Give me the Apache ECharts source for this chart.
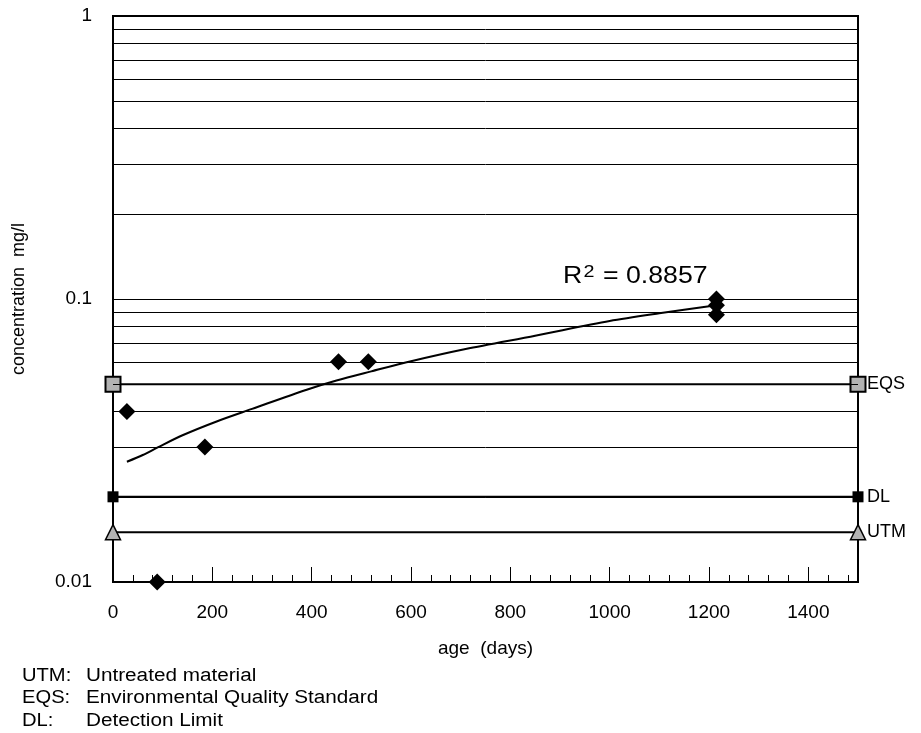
<!DOCTYPE html>
<html>
<head>
<meta charset="utf-8">
<title>Concentration vs age</title>
<script src="https://cdn.jsdelivr.net/npm/echarts@6/dist/echarts.min.js"></script>
<style>
  html, body { margin: 0; padding: 0; background: #ffffff; }
  #chart { width: 921px; height: 733px; }
</style>
</head>
<body>
<div id="chart"></div>
<script>
// Measured leachate concentrations (mg/l) against sample age (days)
const ageDays = [28, 89, 185, 454, 514, 1215, 1215, 1215];
const concentration = [0.04, 0.01, 0.03, 0.06, 0.06, 0.1, 0.095, 0.088];

// Trend line
const trendAge = [28, 60, 90, 140, 210, 280, 390, 450, 520, 600, 710, 850, 1000, 1100, 1215];
const trendConc = [0.0266, 0.0281, 0.0299, 0.0330, 0.0370, 0.0409, 0.0478, 0.0515, 0.0555, 0.0603, 0.0666, 0.0742, 0.0836, 0.0890, 0.0950];
const trendLabel = '0.8857';

// Reference levels
const refNames = ['EQS', 'DL', 'UTM'];
const refLevels = [0.05, 0.02, 0.015];
const refRange = [0, 1500];

// Horizontal grid levels inside each decade
const gridLevels = [0.02, 0.03, 0.04, 0.05, 0.06, 0.07, 0.08, 0.09,
                    0.2, 0.3, 0.4, 0.5, 0.6, 0.7, 0.8, 0.9];

// Footnote legend
const noteKeys = ['UTM:', 'EQS:', 'DL:'];
const noteTexts = ['Untreated material', 'Environmental Quality Standard', 'Detection Limit'];

const FONT = '"Liberation Sans", Arial, sans-serif';
const GREY = '#b2b2b2';

const chart = echarts.init(document.getElementById('chart'), null, { renderer: 'canvas' });

const refStyles = {
  EQS: { symbol: 'rect', symbolSize: 15, color: GREY, border: 2 },
  DL: { symbol: 'rect', symbolSize: 11, color: '#000000', border: 0 },
  UTM: { symbol: 'triangle', symbolSize: 15, color: GREY, border: 1.5 }
};

const refSeries = refNames.map((name, i) => ({
  name: name,
  type: 'line',
  data: refRange.map(x => [x, refLevels[i]]),
  symbol: refStyles[name].symbol,
  symbolSize: refStyles[name].symbolSize,
  showSymbol: true,
  clip: false,
  z: 4,
  silent: true,
  lineStyle: { color: '#000000', width: 2 },
  itemStyle: {
    color: refStyles[name].color,
    borderColor: '#000000',
    borderWidth: refStyles[name].border,
    opacity: 1
  },
  endLabel: {
    show: true,
    formatter: name,
    distance: 9,
    color: '#000000',
    fontFamily: FONT,
    fontSize: 18
  },
  animation: false
}));

const noteGraphics = [];
noteKeys.forEach((k, i) => {
  const y = 676 + i * 22.5;
  noteGraphics.push({
    type: 'text', x: 22, y: y, scaleX: 1.12,
    style: { text: k, font: '18px ' + FONT, fill: '#000000', verticalAlign: 'middle' }
  });
  noteGraphics.push({
    type: 'text', x: 86, y: y, scaleX: 1.15,
    style: { text: noteTexts[i], font: '18px ' + FONT, fill: '#000000', verticalAlign: 'middle' }
  });
});

const option = {
  backgroundColor: '#ffffff',
  animation: false,
  grid: {
    left: 113, right: 63, top: 16, bottom: 151,
    show: true,
    borderColor: '#000000',
    borderWidth: 2,
    outerBoundsMode: 'none'
  },
  xAxis: [
    {
      type: 'value',
      min: 0, max: 1500, interval: 200,
      name: 'age  (days)',
      nameLocation: 'middle',
      nameGap: 57,
      nameTextStyle: { fontFamily: FONT, fontSize: 19, color: '#000000' },
      axisLine: { lineStyle: { color: '#000000', width: 2 } },
      axisTick: { show: true, inside: true, length: 15, lineStyle: { color: '#000000', width: 1 } },
      axisLabel: {
        margin: 21, color: '#000000', fontFamily: FONT, fontSize: 19, showMaxLabel: false,
        formatter: v => String(v)
      },
      splitLine: { show: false }
    },
    {
      type: 'value',
      min: 0, max: 1500, interval: 40,
      position: 'bottom',
      axisLine: { show: false },
      axisTick: { show: true, inside: true, length: 7, lineStyle: { color: '#000000', width: 1 } },
      axisLabel: { show: false },
      splitLine: { show: false }
    }
  ],
  yAxis: {
    type: 'log',
    logBase: 10,
    min: 0.01, max: 1,
    name: 'concentration  mg/l',
    nameLocation: 'middle',
    nameGap: 85,
    nameTextStyle: { fontFamily: FONT, fontSize: 18, color: '#000000' },
    axisLine: { show: true, lineStyle: { color: '#000000', width: 2 } },
    axisTick: { show: false },
    axisLabel: { margin: 21, color: '#000000', fontFamily: FONT, fontSize: 19 },
    splitLine: { show: true, lineStyle: { color: '#000000', width: 1 } }
  },
  graphic: [
    {
      type: 'text', x: 563, y: 277, scaleX: 1.16,
      style: {
        text: '{r|R}{s|2}{r| = ' + trendLabel + '}',
        fill: '#000000',
        verticalAlign: 'middle',
        rich: {
          r: { font: '23px ' + FONT, fill: '#000000' },
          s: { font: '17px ' + FONT, fill: '#000000', verticalAlign: 'top', padding: [0, 1, 9, 1] }
        }
      }
    }
  ].concat(noteGraphics),
  series: [
    {
      name: 'grid',
      type: 'line',
      data: [],
      z: 1,
      silent: true,
      markLine: {
        silent: true,
        symbol: 'none',
        label: { show: false },
        lineStyle: { color: '#000000', width: 1, type: 'solid', opacity: 1 },
        data: gridLevels.map(v => ({ yAxis: v }))
      }
    },
    {
      name: 'trend',
      type: 'line',
      data: trendAge.map((x, i) => [x, trendConc[i]]),
      showSymbol: false,
      smooth: 0.3,
      z: 3,
      silent: true,
      lineStyle: { color: '#000000', width: 2 }
    },
    ...refSeries,
    {
      name: 'measured',
      type: 'scatter',
      data: ageDays.map((x, i) => [x, concentration[i]]),
      symbol: 'diamond',
      symbolSize: 17,
      clip: false,
      z: 5,
      itemStyle: { color: '#000000', opacity: 1 }
    }
  ]
};

chart.setOption(option);
</script>
</body>
</html>
